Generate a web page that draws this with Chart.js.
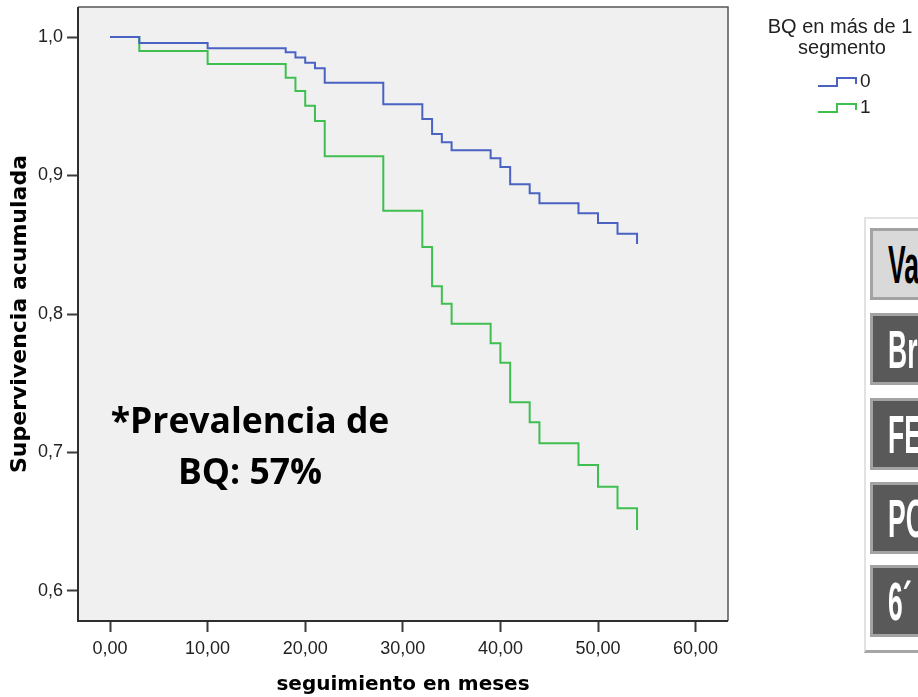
<!DOCTYPE html>
<html>
<head>
<meta charset="utf-8">
<script src="https://cdn.jsdelivr.net/npm/chart.js@4.4.0/dist/chart.umd.min.js"></script>
<style>
  html, body { margin:0; padding:0; background:#ffffff; overflow:hidden; width:918px; height:697px; }
  #wrap { position:absolute; left:0; top:0; width:918px; height:697px; }
  canvas { position:absolute; left:0; top:0; }
  .note { position:absolute; left:60px; width:380px; text-align:center; font-family:"Open Sans", sans-serif; font-weight:700; font-size:35.5px; color:#000; white-space:nowrap; }
  .frame { position:absolute; left:864px; top:217px; width:80px; height:436px; border-left:2px solid #e2e2e2; border-top:2px solid #e2e2e2; border-bottom:3px solid #a6a6a6; box-sizing:border-box; }
  .cell { position:absolute; left:870px; width:80px; box-sizing:border-box; border:3px solid #a3a3a3; border-right:none; overflow:hidden; }
  .cell span { position:absolute; left:15px; top:50%; transform-origin:0 50%; transform:translateY(-50%) scaleX(0.5); font-family:"Liberation Sans", Arial, sans-serif; font-weight:700; font-size:53px; line-height:1; white-space:nowrap; }
</style>
</head>
<body>
<div id="wrap">
  <canvas id="c" width="918" height="697"></canvas>
</div>
<script>
// ---- data ----
const months0 = [0,3,10,18,19,20,21,22,28,32,33,34,35,39,40,41,43,44,48,50,52,54];
const surv0   = [1.0,0.9957,0.992,0.989,0.9853,0.9815,0.9774,0.967,0.9514,0.9408,0.930,0.924,0.9183,0.9125,0.9061,0.8937,0.8872,0.880,0.8727,0.8657,0.858,0.8505];
const months1 = [0,3,10,18,19,20,21,22,28,32,33,34,35,39,40,41,43,44,48,50,52,54];
const surv1   = [1.0,0.990,0.9805,0.9706,0.961,0.9504,0.9394,0.9139,0.8746,0.8484,0.820,0.8074,0.793,0.7788,0.7648,0.7362,0.7218,0.7066,0.691,0.6753,0.6597,0.6441];
const xTickValues = [0,10,20,30,40,50,60];
const yTickValues = [0.6,0.7,0.8,0.9,1.0];
const legendTitle = ["BQ en más de 1","segmento"];
const legendLabels = ["0","1"];
const noteLines = ["*Prevalencia de","BQ: 57%"];
const tableCells = ["Va","Br","FE","PO","6´"];
const xTitle = "seguimiento en meses";
const yTitle = "Supervivencia acumulada";

const colors = ["#4a62c2","#3fbf4f"];

// ---- overlays (text) ----
const wrap = document.getElementById('wrap');
const noteTops = [395, 446];
noteLines.forEach((t,i)=>{
  const d = document.createElement('div');
  d.className = 'note';
  d.style.top = noteTops[i] + 'px';
  d.textContent = t;
  wrap.appendChild(d);
});
const frame = document.createElement('div');
frame.className = 'frame';
wrap.appendChild(frame);
const cellTops = [228,313,398,482,565];
tableCells.forEach((t,i)=>{
  const d = document.createElement('div');
  d.className = 'cell';
  d.style.top = cellTops[i] + 'px';
  d.style.height = '72px';
  d.style.background = i === 0 ? '#d9d9d9' : '#595959';
  const s = document.createElement('span');
  s.style.color = i === 0 ? '#000' : '#fff';
  s.textContent = t;
  d.appendChild(s);
  wrap.appendChild(d);
});

const comma = (v, d) => v.toFixed(d).replace('.', ',');
const tickFont = { family: '"Liberation Sans", Arial, sans-serif', size: 18 };

const plotDecor = {
  id: 'plotDecor',
  beforeDatasetsDraw(chart) {
    const {ctx, chartArea: a} = chart;
    ctx.save();
    ctx.fillStyle = '#f0f0f0';
    ctx.fillRect(a.left, a.top, a.right - a.left, a.bottom - a.top);
    ctx.restore();
  },
  afterDatasetsDraw(chart) {
    const {ctx, chartArea: a} = chart;
    ctx.save();
    ctx.strokeStyle = '#555';
    ctx.lineWidth = 1.5;
    ctx.beginPath();
    ctx.moveTo(a.left, a.top); ctx.lineTo(a.right, a.top); ctx.lineTo(a.right, a.bottom);
    ctx.stroke();
    ctx.strokeStyle = '#2e2e2e';
    ctx.lineWidth = 2;
    ctx.beginPath();
    ctx.moveTo(a.left, a.top); ctx.lineTo(a.left, a.bottom); ctx.lineTo(a.right, a.bottom);
    ctx.stroke();
    // legend
    ctx.fillStyle = '#222';
    ctx.font = '20px "Liberation Sans", Arial, sans-serif';
    ctx.textAlign = 'center';
    ctx.textBaseline = 'middle';
    ctx.fillText(legendTitle[0], 840, 27);
    ctx.fillText(legendTitle[1], 842, 48);
    const rows = [82, 108];
    legendLabels.forEach((lab, i) => {
      const cy = rows[i];
      ctx.strokeStyle = colors[i];
      ctx.lineWidth = 2;
      ctx.beginPath();
      ctx.moveTo(818, cy + 4); ctx.lineTo(837, cy + 4); ctx.lineTo(837, cy - 4);
      ctx.lineTo(856, cy - 4); ctx.lineTo(856, cy + 2);
      ctx.stroke();
      ctx.textAlign = 'left';
      ctx.font = '19px "Liberation Sans", Arial, sans-serif';
      ctx.fillText(lab, 860, cy);
    });
    ctx.restore();
  }
};

new Chart(document.getElementById('c'), {
  type: 'line',
  data: {
    datasets: [
      { label: legendLabels[0], data: months0.map((m,i)=>({x:m, y:surv0[i]})), borderColor: colors[0], borderWidth: 2, stepped: true, pointRadius: 0, fill: false },
      { label: legendLabels[1], data: months1.map((m,i)=>({x:m, y:surv1[i]})), borderColor: colors[1], borderWidth: 2, stepped: true, pointRadius: 0, fill: false }
    ]
  },
  options: {
    responsive: false,
    animation: false,
    devicePixelRatio: 1,
    layout: { padding: { left: 0, right: 190, top: 7, bottom: 0 } },
    plugins: { legend: { display: false }, tooltip: { enabled: false } },
    scales: {
      x: {
        type: 'linear', min: -3.28, max: 63.32,
        afterBuildTicks: s => { s.ticks = xTickValues.map(v => ({value: v})); },
        afterFit: s => { s.height = 76; s.paddingLeft = 0; s.paddingRight = 0; },
        ticks: { callback: v => comma(v, 2), color: '#222', font: tickFont, padding: 6, maxRotation: 0, autoSkip: false },
        grid: { drawOnChartArea: false, drawTicks: true, tickLength: 11, tickWidth: 2, tickColor: '#3a3a3a' },
        border: { display: false },
        title: { display: true, text: xTitle, color: '#000', font: { family: '"DejaVu Sans", sans-serif', weight: 'bold', size: 20 }, padding: { top: 0, bottom: 0 } }
      },
      y: {
        type: 'linear', min: 0.5783, max: 1.0217,
        afterBuildTicks: s => { s.ticks = yTickValues.map(v => ({value: v})); },
        afterFit: s => { s.width = 78; s.paddingTop = 0; s.paddingBottom = 0; },
        ticks: { callback: v => comma(v, 1), color: '#222', font: tickFont, padding: 4, autoSkip: false },
        grid: { drawOnChartArea: false, drawTicks: true, tickLength: 11, tickWidth: 2, tickColor: '#3a3a3a' },
        border: { display: false },
        title: { display: true, text: yTitle, color: '#000', font: { family: '"DejaVu Sans", sans-serif', weight: 'bold', size: 22 }, padding: { top: 7, bottom: 0 } }
      }
    }
  },
  plugins: [plotDecor]
});
</script>
</body>
</html>
